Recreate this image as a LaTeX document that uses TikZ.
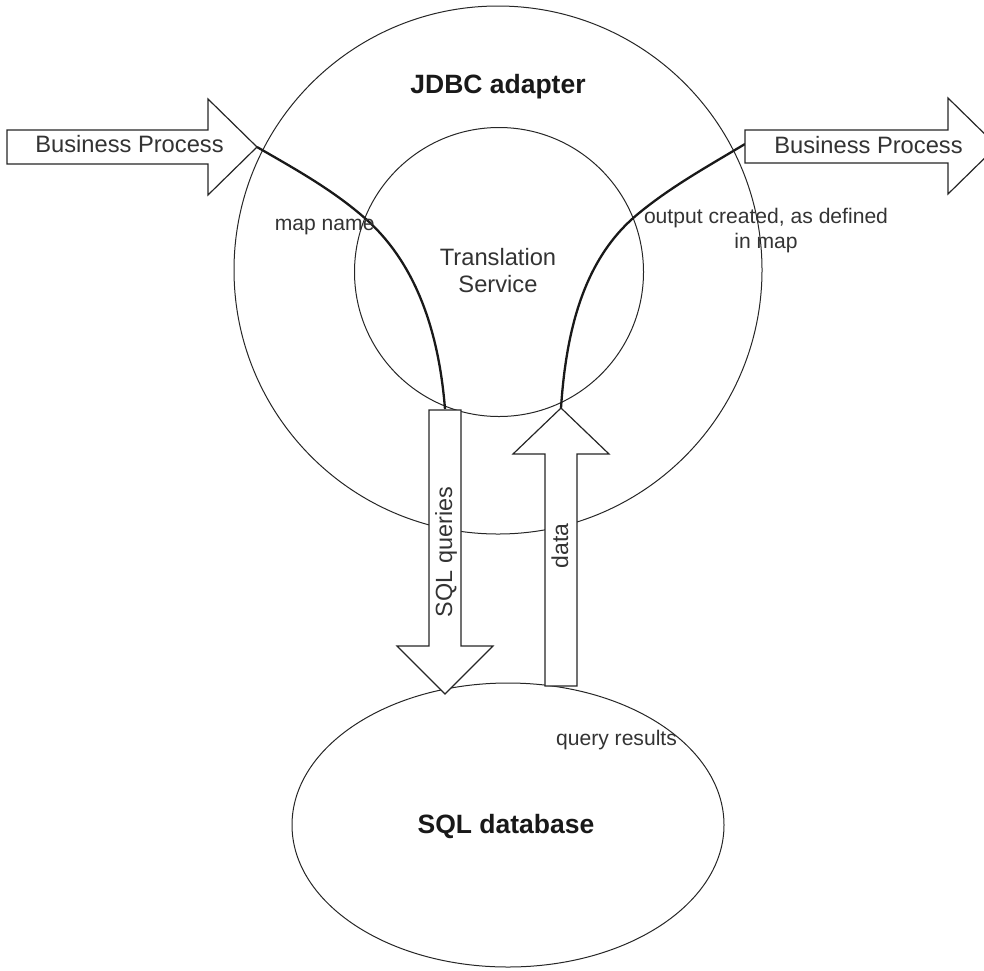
\documentclass[tikz,border=0pt]{standalone}
\usepackage{fontspec}
\setmainfont{Liberation Sans}
\usepackage{tikz}
\usetikzlibrary{shapes.geometric}

\begin{document}
\begin{tikzpicture}[x=1pt,y=-1pt,
    ring/.style={circle,draw=black!85,line width=1pt,inner sep=0pt},
    flow/.style={draw=black!90,line width=2.3pt},
    blockarrow/.style={draw=black!85,fill=white,line width=1.2pt,line join=miter},
    lbl/.style={text=black!80,inner sep=0pt,anchor=base,font=\fontsize{21.1}{25}\selectfont},
    biglbl/.style={lbl,font=\fontsize{23.7}{27.5}\selectfont},
    title/.style={lbl,text=black!90,font=\fontsize{26.5}{30}\selectfont\bfseries}]
    \useasboundingbox (0,0) rectangle (984,970);
    % circles and database
    \node[ring,minimum size=528pt] (adapter) at (498,270) {};
    \node[ring,minimum size=289pt] (service) at (499,272) {};
    \node[ellipse,draw=black!85,line width=1pt,inner sep=0pt,minimum width=432pt,minimum height=284pt] (db) at (508,825) {};
    % end points of the flows
    \coordinate (bpin) at (257,147);
    \coordinate (bpout) at (745,144);
    \coordinate (mapcross) at (367,220);
    \coordinate (outcross) at (636.7,215);
    \coordinate (qtop) at (445,409);
    \coordinate (dtip) at (561,408);
    \draw[flow] (bpin) .. controls (293.6,168.2) and (333.3,189.9) .. (mapcross)
        .. controls (418.2,266.4) and (439.2,335.9) .. (qtop);
    \draw[flow] (dtip) .. controls (565.9,333.5) and (582.5,260.5) .. (outcross)
        .. controls (669.6,187.4) and (708.1,166.1) .. (bpout);
    % block arrows
    \draw[blockarrow] (7,130) -- (208,130) -- (208,99) -- (bpin) -- (208,195) -- (208,164) -- (7,164) -- cycle;
    \draw[blockarrow] (bpout |- 0,130) -- (948,130) -- (948,98) -- (997,146) -- (948,194) -- (948,163) -- (745,163) -- cycle;
    \draw[blockarrow] (429,410) -- (461,410) -- (461,646) -- (493,646) -- (445,694) -- (397,646) -- (429,646) -- cycle;
    \draw[blockarrow] (545,686) -- (545,454) -- (513,454) -- (dtip) -- (609,454) -- (577,454) -- (577,686) -- cycle;
    % texts
    \node[title] (adaptertitle) at (498,93) {JDBC adapter};
    \node[biglbl,align=center] (servicetitle) at (498,292.5) {Translation\\Service};
    \node[title] (dbtitle) at (506,833) {SQL database};
    \node[biglbl] (bpinlbl) at (129.5,152.5) {Business Process};
    \node[biglbl] (bpoutlbl) at (868.5,153) {Business Process};
    \node[lbl] (maplbl) at (324.7,230) {map name};
    \node[lbl,align=center] (outlbl) at (766,248) {output created, as defined\\in map};
    \node[lbl] (reslbl) at (616.5,745) {query results};
    \node[biglbl,rotate=90,font=\fontsize{23.4}{27}\selectfont] (sqllbl) at (452,552) {SQL queries};
    \node[biglbl,rotate=90,font=\fontsize{23}{27}\selectfont] (datalbl) at (568,546) {data};
\end{tikzpicture}
\end{document}
